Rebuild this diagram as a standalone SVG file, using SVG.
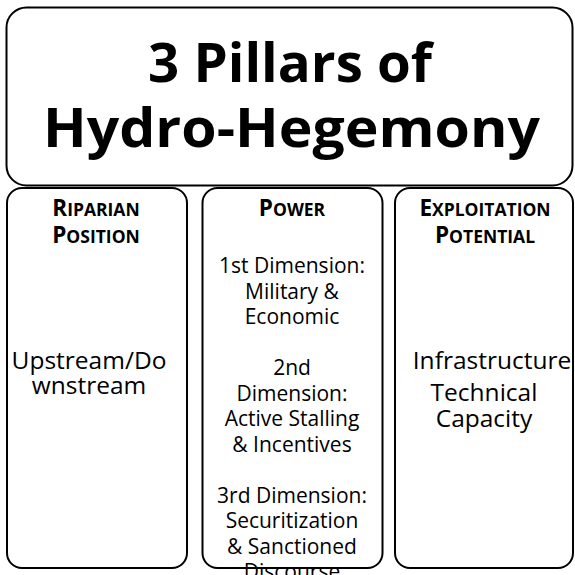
<svg xmlns="http://www.w3.org/2000/svg" width="575" height="575" viewBox="0 0 575 575">
<style>
.box{fill:#fff;stroke:#000;stroke-width:2}
.title{font-family:"Open Sans","Liberation Sans",sans-serif;font-weight:bold;font-size:54px;text-anchor:middle;fill:#000}
.hd{font-family:"Open Sans","Liberation Sans",sans-serif;font-weight:bold;font-size:22.5px;text-anchor:middle;fill:#000}
.sc{font-size:17.5px}
.bd{font-family:"Open Sans","Liberation Sans",sans-serif;font-size:21px;text-anchor:middle;fill:#000}
.bl{font-family:"Open Sans","Liberation Sans",sans-serif;font-size:24.5px;text-anchor:middle;fill:#000}
</style>
<rect width="575" height="575" fill="#fff"/>
<g id="title">
<rect class="box" x="6.5" y="7.5" width="566" height="178" rx="20"/>
<text class="title" x="290" y="82" textLength="284" lengthAdjust="spacingAndGlyphs">3 Pillars of</text>
<text class="title" x="291.5" y="147" textLength="497" lengthAdjust="spacingAndGlyphs">Hydro-Hegemony</text>
</g>
<g id="riparian">
<rect class="box" x="7" y="188" width="180" height="380" rx="15"/>
<text class="hd" x="96" y="216">R<tspan class="sc">IPARIAN</tspan></text>
<text class="hd" x="96" y="243">P<tspan class="sc">OSITION</tspan></text>
<text class="bl" x="89" y="369">Upstream/Do</text>
<text class="bl" x="89" y="394">wnstream</text>
</g>
<g id="power">
<rect class="box" x="202.5" y="188" width="180" height="380" rx="15"/>
<text class="hd" x="292" y="216">P<tspan class="sc">OWER</tspan></text>
<text class="bd" x="292" y="273">1st Dimension:</text>
<text class="bd" x="292" y="298.5">Military &amp;</text>
<text class="bd" x="292" y="324">Economic</text>
<text class="bd" x="292" y="375">2nd</text>
<text class="bd" x="292" y="400.5">Dimension:</text>
<text class="bd" x="292" y="426">Active Stalling</text>
<text class="bd" x="292" y="451.5">&amp; Incentives</text>
<text class="bd" x="292" y="502.5">3rd Dimension:</text>
<text class="bd" x="292" y="528">Securitization</text>
<text class="bd" x="292" y="553.5">&amp; Sanctioned</text>
<text class="bd" x="292" y="579">Discourse</text>
</g>
<g id="exploitation">
<rect class="box" x="395" y="188" width="178" height="380" rx="15"/>
<text class="hd" x="485" y="216">E<tspan class="sc">XPLOITATION</tspan></text>
<text class="hd" x="485" y="243">P<tspan class="sc">OTENTIAL</tspan></text>
<text class="bl" x="492" y="369">Infrastructure</text>
<text class="bl" x="484" y="401">Technical</text>
<text class="bl" x="484" y="427">Capacity</text>
</g>
<g id="connectors"></g>
</svg>
